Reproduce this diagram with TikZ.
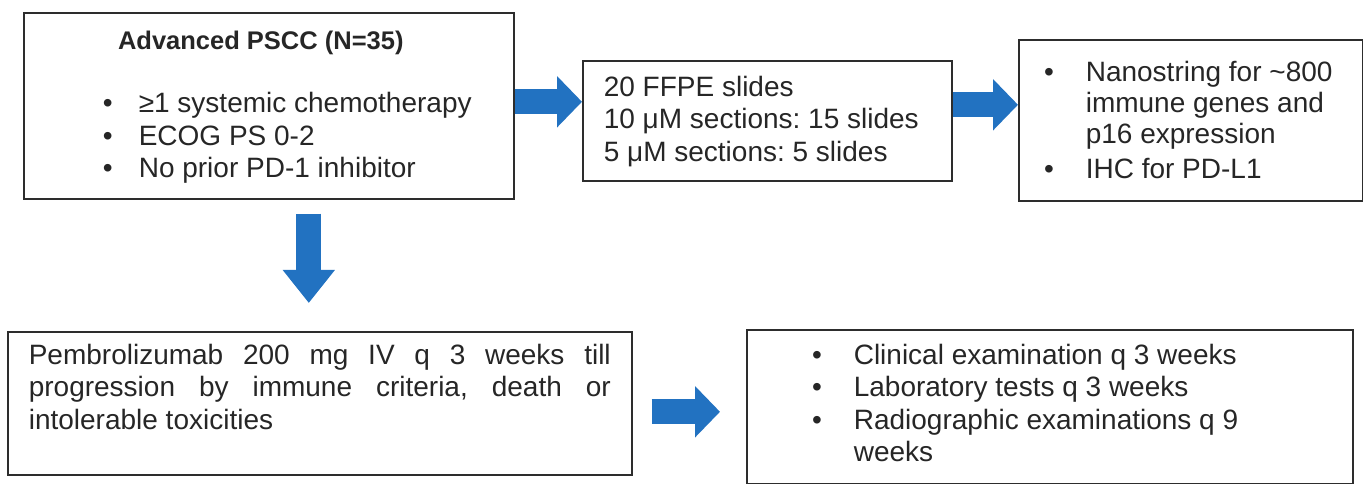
\documentclass[tikz,border=0pt]{standalone}
\usepackage{fontspec}
\setmainfont{Liberation Sans}
\usepackage{enumitem}
\usetikzlibrary{arrows.meta}
\definecolor{flowblue}{RGB}{34,114,193}
\definecolor{boxline}{RGB}{45,45,45}
\setlist[itemize]{nosep,label=\textbullet}
\frenchspacing
\tikzset{
  box/.style={draw=boxline, line width=1.6pt, anchor=north west,
    font=\fontsize{28}{32.5}\selectfont, text=black!85},
  bigarrow/.style={flowblue, line width=25pt, -{Triangle[length=25pt,width=50pt]}}
}

\begin{document}
\begin{tikzpicture}[x=1pt,y=1pt]
		\useasboundingbox (0,0) rectangle (1363,484);
		\node[box, inner xsep=10pt, inner ysep=18pt] (pscc) at (23,472)
			{\parbox[c][150pt][t]{470pt}{\raggedright
			{\centering\hspace*{-16pt}\fontsize{25.5}{32.5}\selectfont\textbf{Advanced PSCC (N=35)}\par}\vspace{31pt}
			\begin{itemize}[leftmargin=105pt,labelsep=26pt]
				\item ≥1 systemic chemotherapy
				\item ECOG PS 0-2
				\item No prior PD-1 inhibitor
			\end{itemize}}};
		\node[box, inner xsep=21pt, inner ysep=15pt] (slides) at (582,424)
			{\parbox[c][90pt][t]{327pt}{\raggedright
			20 FFPE slides\\ 10 μM sections: 15 slides\\ 5 μM sections: 5 slides}};
		\node[box, inner xsep=10pt, inner ysep=21pt] (assay) at (1018,445)
			{\parbox[c][119pt][t]{324pt}{\raggedright\fontsize{28}{31}\selectfont
			\begin{itemize}[leftmargin=57pt,labelsep=32pt,itemsep=4pt]
				\item Nanostring for \textasciitilde800\\ immune genes and\\ p16 expression
				\item IHC for PD-L1
			\end{itemize}}};
		\node[box, inner xsep=21pt, inner ysep=12pt] (pembro) at (7,153)
			{\parbox[c][119pt][t]{582pt}{Pembrolizumab 200 mg IV q 3 weeks till\linebreak
			progression by immune criteria, death or\linebreak intolerable toxicities}};
		\node[box, inner xsep=10pt, inner ysep=14pt] (followup) at (746,155)
			{\parbox[c][126pt][t]{586pt}{\raggedright
			\begin{itemize}[leftmargin=97pt,labelsep=32pt]
				\item Clinical examination q 3 weeks
				\item Laboratory tests q 3 weeks
				\item Radiographic examinations q 9\\ weeks
			\end{itemize}}};
		\draw[bigarrow] ([yshift=4pt]pscc.east) -- ([yshift=4pt]pscc.east -| slides.west);
		\draw[bigarrow] ([yshift=16pt]slides.east) -- ([yshift=16pt]slides.east -| assay.west);
		\draw[bigarrow, -{Triangle[length=33pt,width=50pt]}, shorten >=28pt]
			([xshift=40pt,yshift=-14pt]pscc.south) -- ([xshift=40pt]pscc.south |- pembro.north);
		\draw[bigarrow, shorten >=26pt]
			([xshift=19pt,yshift=-8.5pt]pembro.east) -- ([yshift=-8.5pt]pembro.east -| followup.west);
	\end{tikzpicture}
\end{document}
